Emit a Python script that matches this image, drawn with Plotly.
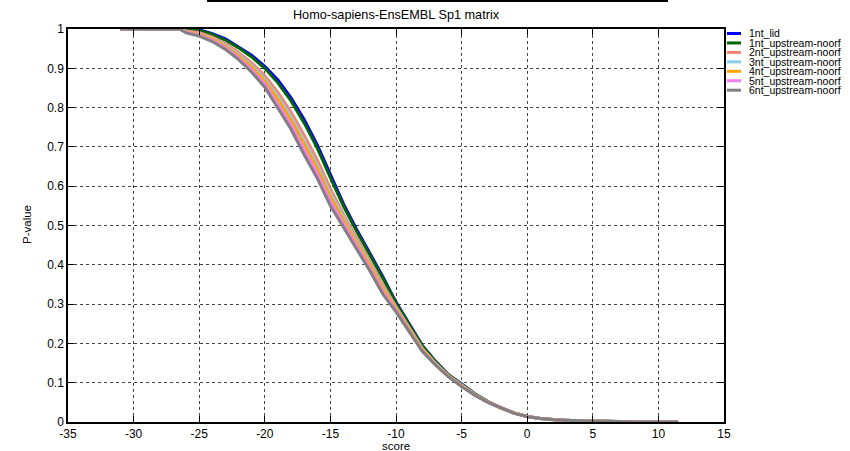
import plotly.graph_objects as go

scores = [-31, -26.5, -26, -25, -24, -23, -22, -21, -20, -19, -18, -17, -16, -15, -14, -13, -12, -11, -10,
          -9, -8, -7, -6, -5, -4, -3, -2, -1, 0, 1, 2, 3, 4, 5, 6, 7, 8, 9, 10, 11.5]

tail = [0.014, 0.009, 0.006, 0.004, 0.003, 0.002, 0.0012, 0.0008, 0.0005, 0.0003, 0.0002, 0.0001]

p_1nt_lid = [1.0, 1.0, 1.0, 0.998, 0.988, 0.975, 0.955, 0.933, 0.905, 0.87, 0.825, 0.77, 0.705, 0.63, 0.555,
             0.49, 0.43, 0.37, 0.305, 0.25, 0.195, 0.155, 0.12, 0.097, 0.072, 0.052, 0.036, 0.023] + tail
p_1nt_up = [1.0, 1.0, 0.999, 0.996, 0.986, 0.972, 0.952, 0.929, 0.90, 0.863, 0.817, 0.761, 0.697, 0.622, 0.549,
            0.485, 0.426, 0.366, 0.303, 0.248, 0.194, 0.154, 0.12, 0.096, 0.072, 0.052, 0.036, 0.023] + tail
p_2nt_up = [1.0, 1.0, 0.995, 0.991, 0.979, 0.963, 0.94, 0.914, 0.881, 0.839, 0.789, 0.73, 0.667, 0.594, 0.528,
            0.468, 0.41, 0.35, 0.294, 0.241, 0.188, 0.15, 0.118, 0.094, 0.07, 0.051, 0.036, 0.023] + tail
p_3nt_up = [1.0, 1.0, 0.994, 0.988, 0.976, 0.959, 0.935, 0.907, 0.873, 0.828, 0.777, 0.716, 0.654, 0.582, 0.519,
            0.46, 0.403, 0.343, 0.29, 0.238, 0.186, 0.149, 0.117, 0.093, 0.07, 0.051, 0.035, 0.023] + tail
p_4nt_up = [1.0, 1.0, 0.993, 0.987, 0.974, 0.956, 0.932, 0.903, 0.868, 0.821, 0.769, 0.707, 0.646, 0.574, 0.513,
            0.455, 0.399, 0.339, 0.288, 0.236, 0.185, 0.148, 0.117, 0.092, 0.069, 0.051, 0.035, 0.023] + tail
p_5nt_up = [1.0, 1.0, 0.992, 0.984, 0.971, 0.952, 0.927, 0.896, 0.86, 0.81, 0.757, 0.694, 0.633, 0.562, 0.504,
            0.448, 0.392, 0.332, 0.284, 0.233, 0.182, 0.146, 0.116, 0.091, 0.068, 0.05, 0.035, 0.022] + tail
p_6nt_up = [1.0, 1.0, 0.99, 0.982, 0.968, 0.948, 0.922, 0.89, 0.852, 0.80, 0.745, 0.68, 0.62, 0.55, 0.495,
            0.44, 0.385, 0.325, 0.28, 0.23, 0.18, 0.145, 0.115, 0.09, 0.068, 0.05, 0.035, 0.022] + tail

names = ["1nt_lid", "1nt_upstream-noorf", "2nt_upstream-noorf", "3nt_upstream-noorf",
         "4nt_upstream-noorf", "5nt_upstream-noorf", "6nt_upstream-noorf"]
series = [p_1nt_lid, p_1nt_up, p_2nt_up, p_3nt_up, p_4nt_up, p_5nt_up, p_6nt_up]
colors = ["#0000ff", "#006400", "#fa8072", "#87ceeb", "#ffa500", "#ee82ee", "#808080"]

x_ticks = list(range(-35, 16, 5))
y_ticks = [0, 0.1, 0.2, 0.3, 0.4, 0.5, 0.6, 0.7, 0.8, 0.9, 1]
y_labels = ["0", "0.1", "0.2", "0.3", "0.4", "0.5", "0.6", "0.7", "0.8", "0.9", "1"]

W, H = 850, 451
L, R, T, B = 68, 126, 29, 29
pw, ph = W - L - R, H - T - B

fig = go.Figure()
for n, s, c in zip(names, series, colors):
    fig.add_trace(go.Scatter(x=scores, y=s, name=n, mode="lines",
                             line=dict(color=c, width=3, shape="linear"),
                             showlegend=False))

font = "Liberation Sans, Arial, sans-serif"
axis_common = dict(showline=True, linecolor="black", linewidth=1.5, mirror="ticks",
                   ticks="inside", ticklen=6, tickcolor="black", tickwidth=1,
                   showgrid=True, gridcolor="#444444", gridwidth=1, griddash="3px,3px",
                   zeroline=False, automargin=False,
                   tickfont=dict(family=font, size=12, color="black"))

fig.update_layout(
    width=W, height=H,
    margin=dict(l=L, r=R, t=T, b=B),
    paper_bgcolor="white", plot_bgcolor="white",
    font=dict(family=font, size=12, color="black"),
    title=dict(text="Homo-sapiens-EnsEMBL Sp1 matrix", x=(L + pw / 2) / W, xanchor="center",
               y=1 - 15 / H, yanchor="middle", font=dict(size=12.7)),
    xaxis=dict(range=[-35, 15], tickvals=x_ticks, ticktext=[str(v) for v in x_ticks], **axis_common),
    yaxis=dict(range=[0, 1], tickvals=y_ticks, ticktext=y_labels, **axis_common),
)

# axis titles
fig.add_annotation(xref="paper", yref="paper", x=0.5, y=-(446 - (H - B)) / ph, text="score",
                   showarrow=False, xanchor="center", yanchor="middle", font=dict(size=11.5))
fig.add_annotation(xref="paper", yref="paper", x=-(L - 27) / pw, y=(H - B - 225) / ph, text="P-value",
                   showarrow=False, xanchor="center", yanchor="middle", textangle=-90, font=dict(size=11.5))

# top decorative line above title
fig.add_shape(type="line", xref="paper", yref="paper",
              x0=(207 - L) / pw, x1=(668 - L) / pw, y0=(H - B - 1) / ph, y1=(H - B - 1) / ph,
              line=dict(color="black", width=2))

# manual compact legend
for i, (n, c) in enumerate(zip(names, colors)):
    ypix = 33.5 + i * 9.45
    yp = (H - B - ypix) / ph
    fig.add_shape(type="line", xref="paper", yref="paper",
                  x0=(727 - L) / pw, x1=(741 - L) / pw, y0=yp, y1=yp,
                  line=dict(color=c, width=3))
    fig.add_annotation(xref="paper", yref="paper", x=(748 - L) / pw, y=yp, text=n,
                       showarrow=False, xanchor="left", yanchor="middle", borderpad=0,
                       font=dict(family=font, size=10.5, color="black"))

fig.write_html("out.html")
